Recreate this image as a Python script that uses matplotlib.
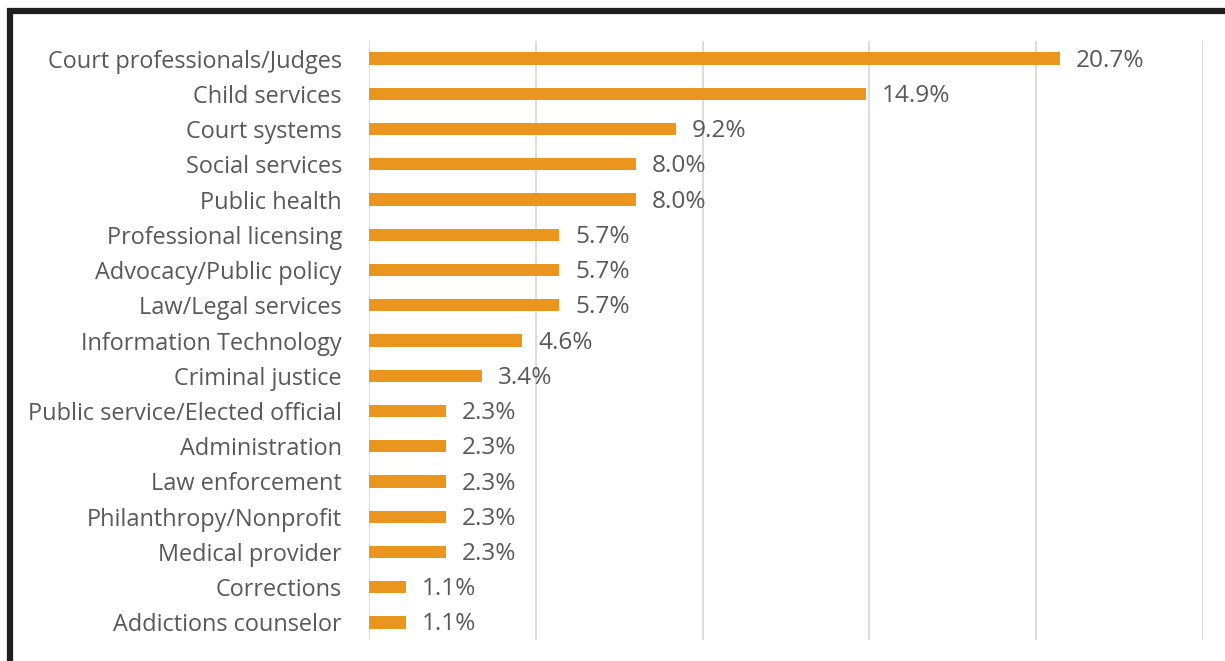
import matplotlib
matplotlib.use("Agg")
import matplotlib.pyplot as plt
from matplotlib.patches import Rectangle

categories = [
    "Court professionals/Judges", "Child services", "Court systems",
    "Social services", "Public health", "Professional licensing",
    "Advocacy/Public policy", "Law/Legal services", "Information Technology",
    "Criminal justice", "Public service/Elected official", "Administration",
    "Law enforcement", "Philanthropy/Nonprofit", "Medical provider",
    "Corrections", "Addictions counselor",
]
values = [20.7, 14.9, 9.2, 8.0, 8.0, 5.7, 5.7, 5.7, 4.6, 3.4,
          2.3, 2.3, 2.3, 2.3, 2.3, 1.1, 1.1]
value_labels = [f"{v:.1f}%" for v in values]

W, H = 1225, 661
fig = plt.figure(figsize=(W / 100, H / 100), dpi=100)
fig.patch.set_facecolor("white")

ax = fig.add_axes([369 / W, 1 - 640 / H, (1203 - 369) / W, (640 - 41) / H])
n = len(categories)
pos = list(range(n))
ax.barh(pos, values, height=0.35, color="#EA961E", zorder=3)
ax.set_ylim(n - 0.5, -0.5)
ax.set_xlim(0, 25)
ax.set_xticks([0, 5, 10, 15, 20, 25])
ax.xaxis.grid(True, color="#D9D9D9", linewidth=1.3, zorder=0)
ax.tick_params(axis="x", length=0, labelbottom=False)
ax.tick_params(axis="y", length=0, pad=19.5)
ax.set_yticks(pos)
ax.set_yticklabels(categories, fontsize=16.9, color="#595959", family="Open Sans")
for s in ax.spines.values():
    s.set_visible(False)

for p, v, t in zip(pos, values, value_labels):
    ax.annotate(t, (v, p), xytext=(11.5, -1.5), textcoords="offset points",
                va="center", ha="left", fontsize=17.6, color="#595959",
                family="Open Sans")

# outer frame, running past the right and bottom edges
fig.patches.append(Rectangle((10 / W, -0.1), 1.2, 1 - 11 / H + 0.1,
                             transform=fig.transFigure, fill=False,
                             edgecolor="#1E1E1E", linewidth=4.5))

fig.savefig("out.png", dpi=100)
